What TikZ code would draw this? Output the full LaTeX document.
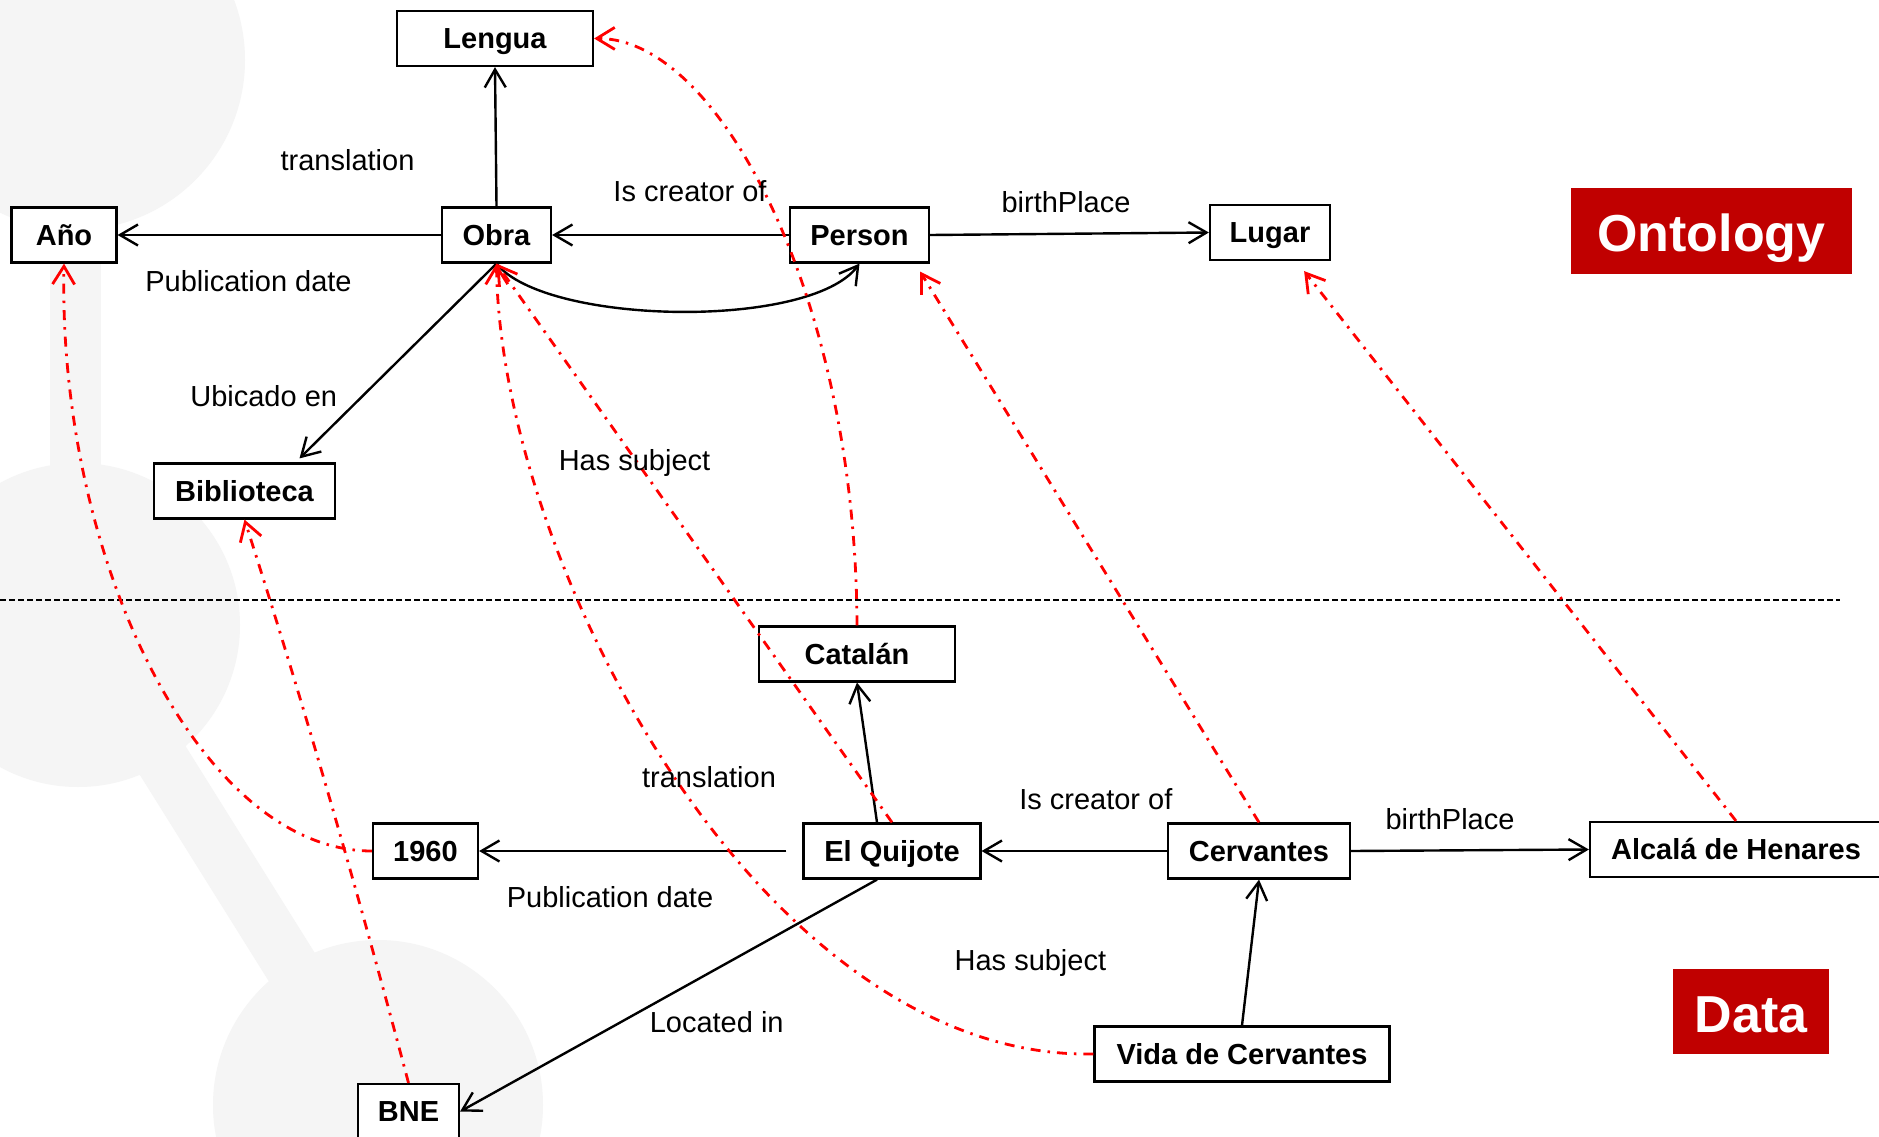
\documentclass[tikz,border=0pt]{standalone}
\usepackage{fontspec}
\setmainfont{Liberation Sans}
\usetikzlibrary{arrows.meta,calc}
\definecolor{bgshape}{RGB}{245,245,245}
\definecolor{ontored}{RGB}{192,0,0}
\begin{document}
\begin{tikzpicture}[x=1pt,y=-1pt,
  box/.style={draw=black, line width=2.2pt, fill=white, minimum height=55pt, inner sep=0pt, text height=23pt, text depth=3pt, font=\fontsize{29}{34}\selectfont\bfseries},
  lbl/.style={font=\fontsize{29}{34}\selectfont, inner sep=0pt, text height=21pt, text depth=0pt},
  rel/.style={line width=2.4pt, -{Straight Barb[length=18pt,width=21pt,line width=2.4pt]}},
  maplink/.style={red, line width=2.8pt, dash pattern=on 10pt off 7pt on 2.5pt off 7pt, -{Straight Barb[length=18pt,width=22pt,line width=2.8pt]}},
  tag/.style={fill=ontored, text=white, inner sep=0pt, text height=44pt, text depth=2pt, font=\fontsize{52}{60}\selectfont\bfseries},
  bgbar/.style={draw=bgshape, line cap=butt}
]
\useasboundingbox (0,0) rectangle (1879,1137);
\clip (0,0) rectangle (1879,1137);
\fill[white] (0,0) rectangle (1879,1137);
% background decoration
\fill[bgshape] (75,60) circle[radius=170pt];
\fill[bgshape] (78,625) circle[radius=162pt];
\fill[bgshape] (378,1105) circle[radius=165pt];
\draw[bgbar, line width=51pt] (75.5,60) -- (75.5,625);
\draw[bgbar, line width=54pt] (78,625) -- (378,1105);
% separator
\draw[line width=1.5pt, dash pattern=on 6pt off 3pt] (0,600) -- (1840,600);
% ontology nodes
\node[box, minimum width=196pt] (lengua) at (495,38.5) {Lengua};
\node[box, minimum width=105pt] (ano) at (64,235) {Año};
\node[box, minimum width=109pt] (obra) at (496.5,235) {Obra};
\node[box, minimum width=139pt] (person) at (859.5,235) {Person};
\node[box, minimum width=120pt] (lugar) at (1270,232.5) {Lugar};
\node[box, minimum width=181pt] (biblio) at (244.5,491) {Biblioteca};
% data nodes
\node[box, minimum width=196pt] (catalan) at (857,654) {Catalán};
\node[box, minimum width=177pt] (quijote) at (892,851) {El Quijote};
\node[box, minimum width=182pt] (cervantes) at (1259,851) {Cervantes};
\node[box, minimum width=292pt] (alcala) at (1736,849.5) {Alcalá de Henares};
\node[box, minimum width=105pt] (y1960) at (425.5,851) {1960};
\node[box, minimum width=295pt] (vida) at (1242,1054) {Vida de Cervantes};
\node[box, minimum width=101pt] (bne) at (408.5,1111.5) {BNE};
% tags
\node[tag, minimum width=281pt, minimum height=86pt] (onto) at (1711.4,230.7) {Ontology};
\node[tag, minimum width=156pt, minimum height=85pt] (data) at (1751,1011) {Data};
% helper coordinates
\coordinate (biblioTip) at ($(biblio.north)+(55,-4)$);
\coordinate (personTip) at ($(person.south east)+(-10,8)$);
\coordinate (lugarTip) at ($(lugar.south east)+(-27,10)$);
\coordinate (quijoteTop) at ($(quijote.north)+(-15,0)$);
\coordinate (quijoteBot) at ($(quijote.south)+(-15,0)$);
% ontology relations
\draw[rel] (obra.north) -- (lengua.south);
\draw[rel] (obra.west) -- (ano.east);
\draw[rel] (person.west) -- (obra.east);
\draw[rel] (person.east) -- (lugar.west);
\draw[rel] (obra.south) -- (biblioTip);
\draw[rel] (obra.south) .. controls (545,325) and (810,330) .. (person.south);
% data relations
\draw[rel] (quijoteTop) -- (catalan.south);
\draw[rel, shorten <=16pt] (quijote.west) -- (y1960.east);
\draw[rel] (cervantes.west) -- (quijote.east);
\draw[rel] (cervantes.east) -- (alcala.west);
\draw[rel] (vida.north) -- (cervantes.south);
\draw[rel] (quijoteBot) -- (bne.east);
% instance links
\draw[maplink] (y1960.west) .. controls (200,851) and (58,560) .. (ano.south);
\draw[maplink] (bne.north) .. controls (359,896) and (305,708) .. (biblio.south);
\draw[maplink] (vida.west) .. controls (760,1060) and (500,560) .. (obra.south);
\draw[maplink] (quijote.north) -- (obra.south);
\draw[maplink] (catalan.north) .. controls (856,300) and (720,38) .. (lengua.east);
\draw[maplink] (cervantes.north) -- (personTip);
\draw[maplink] (alcala.north) -- (lugarTip);
% labels
\node[lbl] (l1) at (347.5,160) {translation};
\node[lbl] (l2) at (248.5,281) {Publication date};
\node[lbl] (l3) at (263.7,396) {Ubicado en};
\node[lbl] (l4) at (690,190.7) {Is creator of};
\node[lbl] (l5) at (1066,201.7) {birthPlace};
\node[lbl] (l6) at (634.5,460) {Has subject};
\node[lbl] (l7) at (709,776.7) {translation};
\node[lbl] (l8) at (610,897) {Publication date};
\node[lbl] (l9) at (716.7,1021.7) {Located in};
\node[lbl] (l10) at (1095.8,799) {Is creator of};
\node[lbl] (l11) at (1450,818.8) {birthPlace};
\node[lbl] (l12) at (1030.4,960) {Has subject};
\end{tikzpicture}
\end{document}
